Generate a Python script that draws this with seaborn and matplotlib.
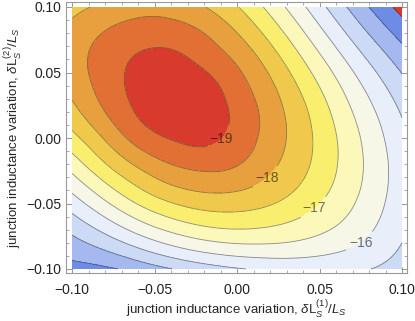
import numpy as np
import matplotlib
matplotlib.use('Agg')
import matplotlib.pyplot as plt
import matplotlib.tri as mtri
from matplotlib.ticker import MultipleLocator, FuncFormatter
import seaborn as sns

# =============================================================================
# Data
# =============================================================================
x_vals = [-0.10, -0.08, -0.06, -0.04, -0.02, 0.00, 0.02, 0.04, 0.06, 0.08, 0.10]
y_vals = [-0.10, -0.08, -0.06, -0.04, -0.02, 0.00, 0.02, 0.04, 0.06, 0.08, 0.10]

# one row per y value (bottom to top), one column per x value
z_rows = [
    [-14.35, -14.42, -14.68, -14.99, -15.26, -15.46, -15.59, -15.64, -15.62, -15.51, -15.28],
    [-14.84, -15.23, -15.69, -16.10, -16.39, -16.53, -16.53, -16.42, -16.21, -15.91, -15.50],
    [-15.42, -16.02, -16.61, -17.05, -17.31, -17.37, -17.25, -16.99, -16.63, -16.18, -15.65],
    [-16.07, -16.78, -17.41, -17.85, -18.05, -18.02, -17.78, -17.39, -16.90, -16.34, -15.72],
    [-16.73, -17.47, -18.09, -18.50, -18.66, -18.53, -18.12, -17.62, -17.03, -16.39, -15.72],
    [-17.34, -18.05, -18.70, -19.03, -19.12, -18.82, -18.29, -17.69, -17.02, -16.32, -15.63],
    [-17.83, -18.50, -19.05, -19.30, -19.25, -18.88, -18.28, -17.61, -16.87, -16.14, -15.45],
    [-18.16, -18.71, -19.15, -19.32, -19.18, -18.72, -18.10, -17.37, -16.60, -15.85, -15.16],
    [-18.28, -18.73, -19.06, -19.13, -18.86, -18.42, -17.77, -17.00, -16.21, -15.45, -14.78],
    [-18.17, -18.53, -18.75, -18.75, -18.50, -18.01, -17.33, -16.55, -15.74, -14.98, -14.31],
    [-17.84, -18.12, -18.31, -18.29, -18.02, -17.53, -16.85, -16.07, -15.26, -14.50, -13.82],
]

levels = [-30, -19, -18.5, -18, -17.5, -17, -16.5, -16, -15.5, -15, -14.5, -14, 0]
band_colors = ['#d93a2e', '#e27034', '#e8a03e', '#f0c84b', '#faee6e', '#fbf8b9', '#f7f7e8',
               '#e8eefa', '#cddaf6', '#a5b9f0', '#6e8ce6', '#d93a2e']
label_levels = [-19, -18, -17, -16]
plain_levels = [-18.5, -17.5, -16.5, -15.5, -15, -14.5, -14]
label_spots = [(-0.0103, 0.0), (0.021, -0.035), (0.051, -0.06), (0.075, -0.08)]

# =============================================================================
# Plot
# =============================================================================
sns.set_theme(style='white')
plt.rcParams['font.family'] = ['Liberation Sans', 'DejaVu Sans']
plt.rcParams['mathtext.fontset'] = 'custom'
plt.rcParams['mathtext.rm'] = 'Liberation Sans'
plt.rcParams['mathtext.it'] = 'Liberation Sans:italic'

fig = plt.figure(figsize=(4.15, 3.21), dpi=100)
ax = fig.add_axes([66 / 415, 1 - 273 / 321, 341 / 415, 271 / 321])

gx, gy = np.meshgrid(x_vals, y_vals)
tri = mtri.Triangulation(gx.ravel(), gy.ravel())
tri_f, z_f = mtri.UniformTriRefiner(tri).refine_field(np.array(z_rows).ravel(), subdiv=4)

ax.tricontourf(tri_f, z_f, levels=levels, colors=band_colors)
ax.tricontour(tri_f, z_f, levels=plain_levels, colors='#333333', linewidths=0.6,
              linestyles='solid', alpha=0.55)
cs = ax.tricontour(tri_f, z_f, levels=label_levels, colors='#333333', linewidths=0.6,
                   linestyles='solid', alpha=0.55)
texts = ax.clabel(cs, inline=True, fontsize=10, colors='black',
                  fmt={lv: f'\u2212{abs(lv)}' for lv in label_levels},
                  manual=label_spots)
for t in texts:
    t.set_rotation(0)

ax.set_xlim(-0.1 - 6 / 1650, 0.1 + 5 / 1650)
ax.set_ylim(-0.1 - 4 / 1310, 0.1 + 5 / 1310)
fmt = FuncFormatter(lambda v, _: f'{v:.2f}'.replace('-', '\u2212') if abs(v) > 1e-9 else '0.00')
for axis in (ax.xaxis, ax.yaxis):
    axis.set_major_locator(MultipleLocator(0.05))
    axis.set_minor_locator(MultipleLocator(0.01))
    axis.set_major_formatter(fmt)
ax.tick_params(which='both', direction='in', top=True, right=True, bottom=True, left=True,
               color='#888888', labelsize=10, labelcolor='#222222')
ax.tick_params(which='major', length=4, width=0.6)
ax.tick_params(which='minor', length=2, width=0.5)
ax.tick_params(axis='x', which='major', pad=7)
ax.tick_params(axis='y', which='major', pad=3)
for s in ax.spines.values():
    s.set_color('#999999')
    s.set_linewidth(0.8)
ax.set_xlabel(r'junction inductance variation, $\delta\mathrm{L}_S^{(1)}/L_S$', fontsize=9.5, labelpad=1)
ax.set_ylabel(r'junction inductance variation, $\delta\mathrm{L}_S^{(2)}/L_S$', fontsize=9.5, labelpad=2)

fig.savefig('out.png', dpi=100)
